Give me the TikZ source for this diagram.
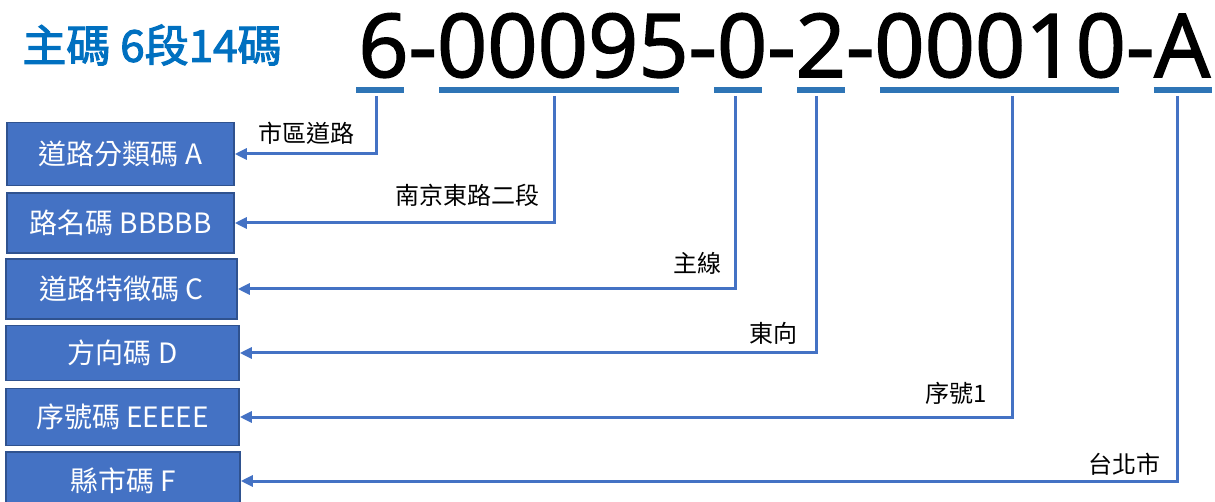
\documentclass[tikz,border=0pt]{standalone}
\usepackage{fontspec}
\setmainfont{Noto Sans CJK TC}
\newfontfamily\codefont[FakeBold=1.8]{Open Sans}
\newfontfamily\titlefont[FakeBold=2.5]{Noto Sans CJK TC}
\usetikzlibrary{arrows.meta}
\definecolor{titleblue}{HTML}{0070C0}
\definecolor{barblue}{HTML}{2E75B6}
\definecolor{lineblue}{HTML}{4472C4}
\definecolor{boxedge}{HTML}{2F528F}
\tikzset{
	codebox/.style={draw=boxedge, line width=1.5pt, fill=lineblue, text=white, inner sep=0pt, font=\fontsize{28}{31}\selectfont},
	bar/.style={barblue, line width=6pt},
	link/.style={lineblue, line width=3pt, -{Triangle[length=12pt,width=11pt]}},
	note/.style={inner sep=0pt, font=\fontsize{24}{27}\selectfont},
}

\begin{document}
\begin{tikzpicture}[x=1pt, y=-1pt]
		%%%%% START %%%%%
		\useasboundingbox (0, 0) rectangle (1215, 502);
		
		\node[inner sep=0pt, text=titleblue, font=\titlefont\fontsize{44}{48}\selectfont] (title) at (152, 45) {主碼 6段14碼};
		\node[inner sep=0pt, anchor=base, font=\codefont\fontsize{88}{90}\selectfont] (code) at (784, 77) {6-00095-0-2-00010-A};
		
		\draw[bar] (356, 90) -- (404, 90);
		\draw[bar] (439, 90) -- (679, 90);
		\draw[bar] (714, 90) -- (762, 90);
		\draw[bar] (797, 90) -- (845, 90);
		\draw[bar] (880, 90) -- (1119, 90);
		\draw[bar] (1154, 90) -- (1212, 90);
		
		\coordinate (topA) at (376, 96);
		\coordinate (topB) at (554, 96);
		\coordinate (topC) at (735, 96);
		\coordinate (topD) at (816, 96);
		\coordinate (topE) at (1012, 96);
		\coordinate (topF) at (1177, 96);
		
		\node[codebox, minimum width=227, minimum height=63] (boxA) at (120.5, 154) {道路分類碼 A};
		\node[codebox, minimum width=227, minimum height=60] (boxB) at (120.5, 223) {路名碼 BBBBB};
		\node[codebox, minimum width=231, minimum height=60] (boxC) at (121.5, 289) {道路特徵碼 C};
		\node[codebox, minimum width=233, minimum height=55] (boxD) at (122.5, 353) {方向碼 D};
		\node[codebox, minimum width=233, minimum height=57] (boxE) at (122.5, 417) {序號碼 EEEEE};
		\node[codebox, minimum width=234, minimum height=58] (boxF) at (123, 481) {縣市碼 F};
		
		\draw[link] (topA) |- (boxA.east);
		\draw[link] (topB) |- (boxB.east);
		\draw[link] (topC) |- (boxC.east);
		\draw[link] (topD) |- (boxD.east);
		\draw[link] (topE) |- (boxE.east);
		\draw[link] (topF) |- (boxF.east);
		
		\node[note] (noteA) at (306, 133) {市區道路};
		\node[note] (noteB) at (467, 195) {南京東路二段};
		\node[note] (noteC) at (697, 263) {主線};
		\node[note] (noteD) at (773, 333) {東向};
		\node[note] (noteE) at (956, 393) {序號1};
		\node[note] (noteF) at (1124, 464) {台北市};
		%%%%% END %%%%%
\end{tikzpicture}
\end{document}
